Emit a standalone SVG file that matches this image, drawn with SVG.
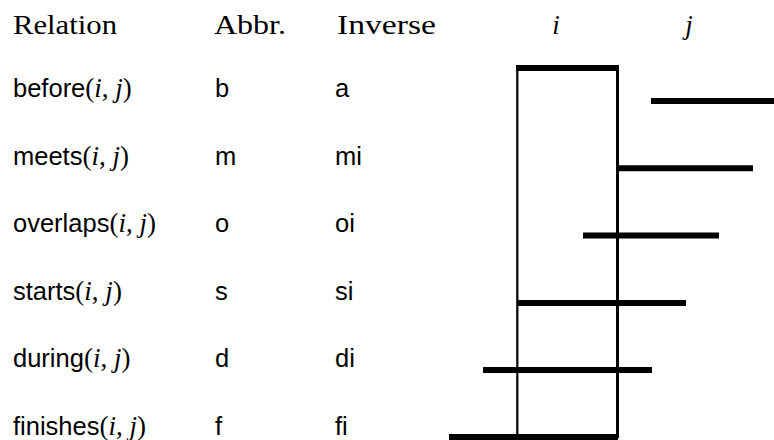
<svg xmlns="http://www.w3.org/2000/svg" width="774" height="440" viewBox="0 0 774 440">
<style>
.hd{font-family:"Liberation Serif","DejaVu Serif",serif;font-size:28px;fill:#000}
.sf{font-family:"Liberation Sans","DejaVu Sans",sans-serif;font-size:25.5px;fill:#000}
.rm{font-family:"Liberation Serif","DejaVu Serif",serif;font-size:27px}
.it{font-family:"Liberation Serif","DejaVu Serif",serif;font-style:italic;font-size:27px}
.bar{stroke:#000;stroke-width:6;fill:none}
.edge{stroke:#000;fill:none}
</style>
<rect width="774" height="440" fill="#fff"/>
<g id="header">
<text class="hd" x="13" y="34" textLength="104" lengthAdjust="spacingAndGlyphs">Relation</text>
<text class="hd" x="214" y="34" textLength="72" lengthAdjust="spacingAndGlyphs">Abbr.</text>
<text class="hd" x="337" y="34" textLength="99" lengthAdjust="spacingAndGlyphs">Inverse</text>
<text class="it" x="556" y="34" text-anchor="middle">i</text>
<text class="it" x="689" y="34" text-anchor="middle">j</text>
</g>
<g id="interval-i">
<line class="bar" x1="516" y1="68" x2="618" y2="68"/>
<line class="edge" x1="517.3" y1="65" x2="517.3" y2="437" stroke-width="2.2"/>
<line class="edge" x1="617.5" y1="65" x2="617.5" y2="438" stroke-width="3"/>
</g>
<g id="before">
<text class="sf" x="13" y="97">before<tspan class="rm">(</tspan><tspan class="it">i</tspan><tspan class="rm">, </tspan><tspan class="it">j</tspan><tspan class="rm">)</tspan></text>
<text class="sf" x="215" y="97">b</text>
<text class="sf" x="335" y="97">a</text>
<line class="bar" x1="651" y1="101" x2="774" y2="101"/>
</g>
<g id="meets">
<text class="sf" x="13" y="164.6">meets<tspan class="rm">(</tspan><tspan class="it">i</tspan><tspan class="rm">, </tspan><tspan class="it">j</tspan><tspan class="rm">)</tspan></text>
<text class="sf" x="215" y="164.6">m</text>
<text class="sf" x="335" y="164.6">mi</text>
<line class="bar" x1="619" y1="168.3" x2="753" y2="168.3"/>
</g>
<g id="overlaps">
<text class="sf" x="13" y="232.2">overlaps<tspan class="rm">(</tspan><tspan class="it">i</tspan><tspan class="rm">, </tspan><tspan class="it">j</tspan><tspan class="rm">)</tspan></text>
<text class="sf" x="215" y="232.2">o</text>
<text class="sf" x="335" y="232.2">oi</text>
<line class="bar" x1="583" y1="235.6" x2="719" y2="235.6"/>
</g>
<g id="starts">
<text class="sf" x="13" y="299.8">starts<tspan class="rm">(</tspan><tspan class="it">i</tspan><tspan class="rm">, </tspan><tspan class="it">j</tspan><tspan class="rm">)</tspan></text>
<text class="sf" x="215" y="299.8">s</text>
<text class="sf" x="335" y="299.8">si</text>
<line class="bar" x1="517" y1="303" x2="686" y2="303"/>
</g>
<g id="during">
<text class="sf" x="13" y="367.4">during<tspan class="rm">(</tspan><tspan class="it">i</tspan><tspan class="rm">, </tspan><tspan class="it">j</tspan><tspan class="rm">)</tspan></text>
<text class="sf" x="215" y="367.4">d</text>
<text class="sf" x="335" y="367.4">di</text>
<line class="bar" x1="483" y1="370" x2="652" y2="370"/>
</g>
<g id="finishes">
<text class="sf" x="13" y="435">finishes<tspan class="rm">(</tspan><tspan class="it">i</tspan><tspan class="rm">, </tspan><tspan class="it">j</tspan><tspan class="rm">)</tspan></text>
<text class="sf" x="215" y="435">f</text>
<text class="sf" x="335" y="435">fi</text>
<line class="bar" x1="449" y1="437" x2="618" y2="437"/>
</g>
</svg>
